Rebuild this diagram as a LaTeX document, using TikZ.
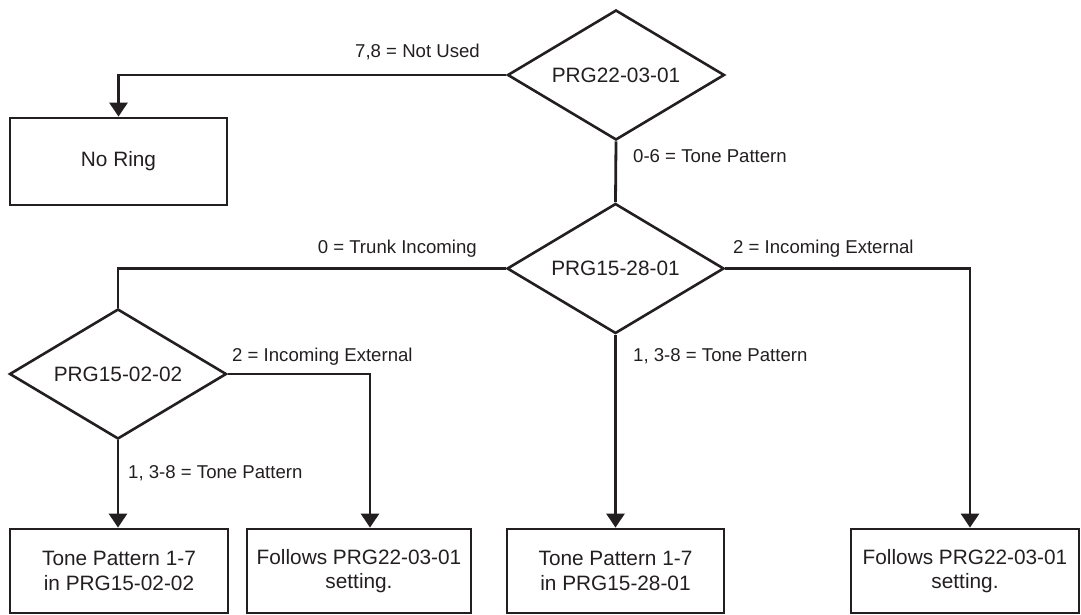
\documentclass[tikz,border=0pt]{standalone}
\usepackage{fontspec}
\setmainfont{Liberation Sans}
\usetikzlibrary{shapes.geometric,arrows.meta}
\definecolor{ink}{RGB}{35,31,32}
\begin{document}
\begin{tikzpicture}[x=1pt,y=-1pt,
  every node/.style={text=ink},
  decision/.style={diamond,draw=ink,line width=2.6pt,aspect=1.67,inner sep=0pt,
     minimum width=217pt,minimum height=130pt,font=\fontsize{20.8}{24.5}\selectfont},
  outbox/.style={rectangle,draw=ink,line width=2.8pt,inner sep=0pt,align=center,
     font=\fontsize{20.8}{24.5}\selectfont},
  edgelabel/.style={inner sep=0pt,font=\fontsize{18.6}{22}\selectfont},
  conn/.style={draw=ink,line width=2.8pt},
  arr/.style={conn,-{Triangle[width=18pt,length=14pt]}}
]
\useasboundingbox (0,0) rectangle (1081,615);
% decisions
\node[decision] (d1) at (616,75) {PRG22-03-01};
\node[decision] (d2) at (615.5,268.5) {PRG15-28-01};
\node[decision] (d3) at (118,374) {PRG15-02-02};
% boxes
\node[outbox,minimum width=217pt,minimum height=87pt] (noring) at (118.5,161.5) {No Ring};
\node[outbox,minimum width=218pt,minimum height=84pt] (b1) at (119,571) {Tone Pattern 1-7\\in PRG15-02-02};
\node[outbox,minimum width=224pt,minimum height=84pt] (b2) at (359,571) {Follows PRG22-03-01\\setting.};
\node[outbox,minimum width=217pt,minimum height=84pt] (b3) at (615.5,571) {Tone Pattern 1-7\\in PRG15-28-01};
\node[outbox,minimum width=228pt,minimum height=84pt] (b4) at (965,571) {Follows PRG22-03-01\\setting.};
% connectors
\draw[arr] (d1.west) -| (noring.north);
\draw[conn] (d1.south) -- (d2.north);
\draw[conn] (d2.west) -| (d3.north);
\draw[arr] (d2.east) -| ([xshift=5pt]b4.north);
\draw[arr] (d2.south) -- (b3.north);
\draw[arr] (d3.east) -| ([xshift=11pt]b2.north);
\draw[arr] (d3.south) -- (b1.north -| d3.south);
% labels
\node[edgelabel,anchor=base east] (l1) at (480,58) {7,8 = Not Used};
\node[edgelabel,anchor=base west] (l2) at (633,162) {0-6 = Tone Pattern};
\node[edgelabel,anchor=base east] (l3) at (477,253) {0 = Trunk Incoming};
\node[edgelabel,anchor=base west] (l4) at (733,253) {2 = Incoming External};
\node[edgelabel,anchor=base west] (l5) at (633,361) {1, 3-8 = Tone Pattern};
\node[edgelabel,anchor=base west] (l6) at (232,361) {2 = Incoming External};
\node[edgelabel,anchor=base west] (l7) at (128,478) {1, 3-8 = Tone Pattern};
\end{tikzpicture}
\end{document}
